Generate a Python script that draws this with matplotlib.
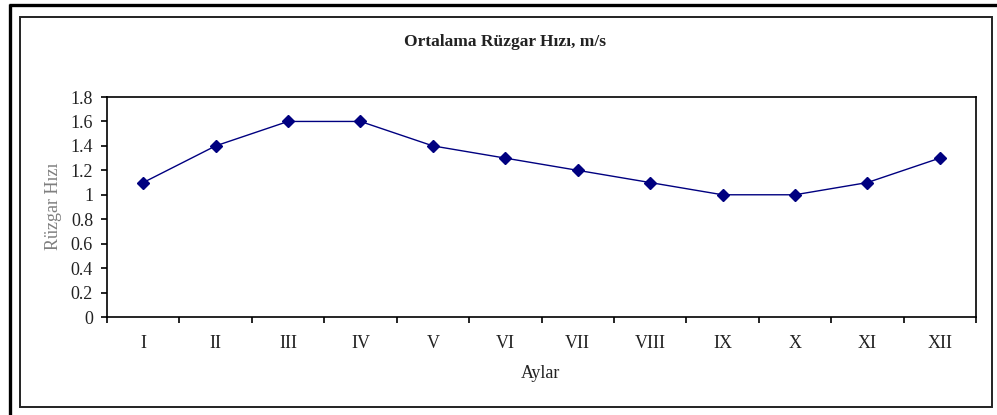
import matplotlib
matplotlib.use("Agg")
import matplotlib.pyplot as plt
from matplotlib.lines import Line2D
from matplotlib.patches import Rectangle
from matplotlib.ticker import FixedLocator, NullFormatter

months = ["I", "II", "III", "IV", "V", "VI", "VII", "VIII", "IX", "X", "XI", "XII"]
speed = [1.1, 1.4, 1.6, 1.6, 1.4, 1.3, 1.2, 1.1, 1.0, 1.0, 1.1, 1.3]
yticks = [0, 0.2, 0.4, 0.6, 0.8, 1, 1.2, 1.4, 1.6, 1.8]
ytick_labels = ["0", "0.2", "0.4", "0.6", "0.8", "1", "1.2", "1.4", "1.6", "1.8"]

plt.rcParams['font.family'] = ['Liberation Serif', 'DejaVu Serif']

W, H = 997, 415
fig = plt.figure(figsize=(W / 100, H / 100), dpi=100)

def fx(px):
    return px / W

def fy(py):
    return 1 - py / H

ax = fig.add_axes([fx(107), fy(317), fx(976) - fx(107), fy(97) - fy(317)])
x = list(range(len(months)))
ax.plot(x, speed, color="#000080", linewidth=1.0, marker="D", markersize=6,
        markerfacecolor="#000080", markeredgecolor="#000080")

ax.set_xlim(-0.5, len(months) - 0.5)
ax.set_ylim(0, 1.8)
ax.set_yticks(yticks)
ax.set_yticklabels(ytick_labels, fontsize=13, color='#222222')
ax.xaxis.set_major_locator(FixedLocator([i - 0.5 for i in range(len(months) + 1)]))
ax.xaxis.set_major_formatter(NullFormatter())
ax.xaxis.set_minor_locator(FixedLocator(x))
ax.set_xticklabels(months, minor=True, fontsize=13, color='#222222')
ax.tick_params(axis='x', which='major', direction='out', length=4, width=1.2, color='black')
ax.tick_params(axis='x', which='minor', length=0, pad=13)
ax.tick_params(axis='y', direction='out', length=4, width=1.2, pad=6)
for s in ax.spines.values():
    s.set_linewidth(1.2)
    s.set_color('black')

fig.text(fx(541), fy(374), "Aylar", ha='center', va='center', fontsize=13, color='#222222')
fig.text(fx(53), fy(206), "Rüzgar Hızı", rotation=90, ha='center', va='center',
         fontsize=13, color='#7f7f7f')
fig.text(fx(505), fy(42), "Ortalama Rüzgar Hızı, m/s", ha='center', va='center',
         fontsize=12.5, fontweight='bold', color='#222222')

# outer frame lines (top and left)
fig.add_artist(Line2D([fx(8.5), 1.0], [fy(5.5), fy(5.5)], color='black', linewidth=2.4,
                      solid_capstyle='butt'))
fig.add_artist(Line2D([fx(9.5), fx(9.5)], [fy(4.5), 0.0], color='black', linewidth=2.4,
                      solid_capstyle='butt'))
# inner frame
fig.add_artist(Rectangle((fx(20), fy(407)), fx(992) - fx(20), fy(17) - fy(407),
                         fill=False, edgecolor='#222222', linewidth=1.4))

fig.savefig("out.png", dpi=100)
